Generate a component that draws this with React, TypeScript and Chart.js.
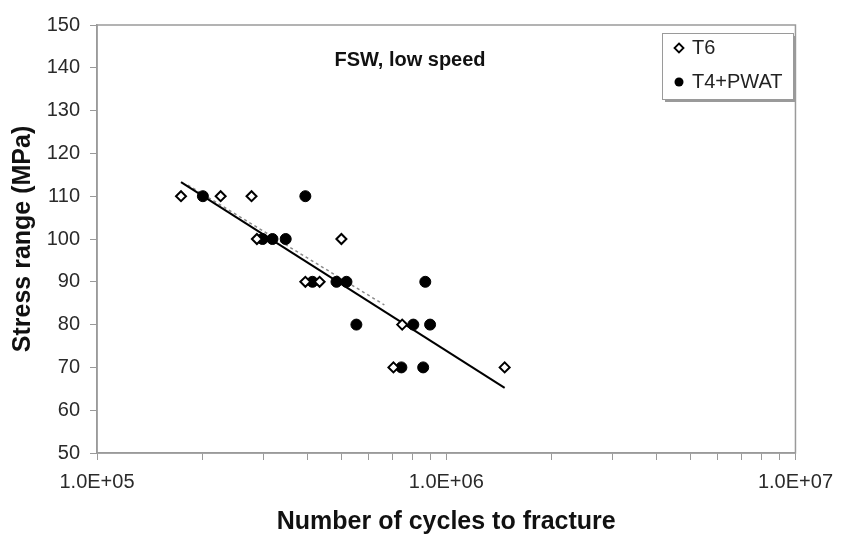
import React, { useEffect, useRef } from 'react';
import { Chart, registerables } from 'chart.js';

Chart.register(...registerables);

// ---- data ----
const T6_CYCLES = [1.74e5, 2.26e5, 2.77e5, 2.87e5, 5.01e5, 3.95e5, 4.34e5, 7.48e5, 7.06e5, 1.47e6];
const T6_STRESS = [110, 110, 110, 100, 100, 90, 90, 80, 70, 70];

const T4_CYCLES = [2.01e5, 3.95e5, 2.98e5, 3.18e5, 3.47e5, 4.14e5, 4.85e5, 5.18e5, 8.71e5, 5.53e5, 8.05e5, 8.99e5, 7.44e5, 8.59e5];
const T4_STRESS = [110, 110, 100, 100, 100, 90, 90, 90, 90, 80, 80, 80, 70, 70];

const FIT_SOLID_CYCLES = [1.74e5, 1.47e6];
const FIT_SOLID_STRESS = [113.3, 65.2];

const FIT_DASHED_CYCLES = [1.82e5, 6.65e5];
const FIT_DASHED_STRESS = [112.6, 84.6];

const X_TICKS = [
  1e5, 2e5, 3e5, 4e5, 5e5, 6e5, 7e5, 8e5, 9e5,
  1e6, 2e6, 3e6, 4e6, 5e6, 6e6, 7e6, 8e6, 9e6, 1e7,
];
const Y_MIN = 50;
const Y_MAX = 150;
const Y_STEP = 10;

const SERIES_LABELS = ['T6', 'T4+PWAT'];
const CHART_TITLE = 'FSW, low speed';
const X_TITLE = 'Number of cycles to fracture';
const Y_TITLE = 'Stress range (MPa)';

const FONT = '"Liberation Sans", Arial, sans-serif';

const toPoints = (xs: number[], ys: number[]) => xs.map((x, i) => ({ x, y: ys[i] }));

const fmtExp = (v: number) => {
  const e = Math.round(Math.log10(v));
  const sign = e >= 0 ? '+' : '-';
  const abs = Math.abs(e);
  return `1.0E${sign}${abs < 10 ? '0' + abs : abs}`;
};

const decorPlugin = {
  id: 'decor',
  afterDraw(chart: any) {
    const { ctx, chartArea } = chart;
    ctx.save();
    // frame
    ctx.strokeStyle = '#9a9a9a';
    ctx.lineWidth = 1.5;
    ctx.strokeRect(chartArea.left, chartArea.top, chartArea.right - chartArea.left, chartArea.bottom - chartArea.top);

    // title inside the plot
    ctx.fillStyle = '#111';
    ctx.font = `bold 20px ${FONT}`;
    ctx.textAlign = 'center';
    ctx.textBaseline = 'middle';
    ctx.fillText(CHART_TITLE, 410, 60);

    // legend box
    const lx = 662, ly = 33, lw = 131, lh = 66;
    ctx.fillStyle = '#9a9a9a';
    ctx.fillRect(lx + 3, ly + 3, lw, lh);
    ctx.fillStyle = '#fff';
    ctx.fillRect(lx, ly, lw, lh);
    ctx.strokeStyle = '#9a9a9a';
    ctx.lineWidth = 1;
    ctx.strokeRect(lx + 0.5, ly + 0.5, lw, lh);

    // legend symbols
    const sx = 679;
    const y1 = 48, y2 = 82;
    ctx.beginPath();
    ctx.moveTo(sx, y1 - 4.5);
    ctx.lineTo(sx + 4.5, y1);
    ctx.lineTo(sx, y1 + 4.5);
    ctx.lineTo(sx - 4.5, y1);
    ctx.closePath();
    ctx.fillStyle = '#fff';
    ctx.fill();
    ctx.strokeStyle = '#000';
    ctx.lineWidth = 1.8;
    ctx.stroke();

    ctx.beginPath();
    ctx.arc(sx, y2, 4.5, 0, Math.PI * 2);
    ctx.fillStyle = '#000';
    ctx.fill();

    ctx.fillStyle = '#222';
    ctx.font = `20px ${FONT}`;
    ctx.textAlign = 'left';
    ctx.textBaseline = 'middle';
    ctx.fillText(SERIES_LABELS[0], 692, y1);
    ctx.fillText(SERIES_LABELS[1], 692, y2);
    ctx.restore();
  },
};

export default function App() {
  const ref = useRef<HTMLCanvasElement | null>(null);

  useEffect(() => {
    if (!ref.current) return;
    const chart = new Chart(ref.current, {
      type: 'scatter',
      data: {
        datasets: [
          {
            label: SERIES_LABELS[0],
            data: toPoints(T6_CYCLES, T6_STRESS),
            pointStyle: 'rectRot',
            pointRadius: 5,
            pointBackgroundColor: '#fff',
            pointBorderColor: '#000',
            pointBorderWidth: 2,
          },
          {
            label: SERIES_LABELS[1],
            data: toPoints(T4_CYCLES, T4_STRESS),
            pointStyle: 'circle',
            pointRadius: 5.5,
            pointBackgroundColor: '#000',
            pointBorderColor: '#000',
            pointBorderWidth: 1,
          },
          {
            label: 'fit',
            data: toPoints(FIT_SOLID_CYCLES, FIT_SOLID_STRESS),
            showLine: true,
            borderColor: '#000',
            borderWidth: 2,
            pointRadius: 0,
          },
          {
            label: 'fit2',
            data: toPoints(FIT_DASHED_CYCLES, FIT_DASHED_STRESS),
            showLine: true,
            borderColor: '#8a8a8a',
            borderWidth: 1.5,
            borderDash: [3, 3],
            pointRadius: 0,
          },
        ],
      },
      options: {
        responsive: false,
        animation: false,
        layout: { padding: { left: 0, right: 46, top: 25, bottom: 0 } },
        plugins: {
          legend: { display: false },
          tooltip: { enabled: false },
          title: { display: false },
        },
        scales: {
          x: {
            type: 'logarithmic',
            min: 1e5,
            max: 1e7,
            afterBuildTicks: (scale: any) => {
              scale.ticks = X_TICKS.map((v) => ({ value: v }));
            },
            afterFit: (scale: any) => {
              scale.height = 84;
            },
            grid: {
              display: true,
              drawOnChartArea: false,
              drawTicks: true,
              tickLength: 7,
              color: '#9a9a9a',
              lineWidth: 1,
            },
            border: { display: true, color: '#9a9a9a', width: 1.5 },
            ticks: {
              autoSkip: false,
              maxRotation: 0,
              padding: 10,
              color: '#2a2a2a',
              font: { family: FONT, size: 20 },
              callback: (v: any) => {
                const l = Math.log10(Number(v));
                return Math.abs(l - Math.round(l)) < 1e-9 ? fmtExp(Number(v)) : '';
              },
            },
            title: {
              display: true,
              text: X_TITLE,
              color: '#111',
              font: { family: FONT, size: 25, weight: 'bold' },
              padding: { top: 0, bottom: 0 },
            },
          },
          y: {
            min: Y_MIN,
            max: Y_MAX,
            afterFit: (scale: any) => {
              scale.width = 97;
            },
            grid: {
              display: true,
              drawOnChartArea: false,
              drawTicks: true,
              tickLength: 7,
              color: '#9a9a9a',
              lineWidth: 1,
            },
            border: { display: true, color: '#9a9a9a', width: 1.5 },
            ticks: {
              stepSize: Y_STEP,
              padding: 10,
              color: '#2a2a2a',
              font: { family: FONT, size: 20 },
            },
            title: {
              display: true,
              text: Y_TITLE,
              color: '#111',
              font: { family: FONT, size: 25, weight: 'bold' },
              padding: { top: 8, bottom: 0 },
            },
          },
        },
      },
      plugins: [decorPlugin],
    } as any);
    return () => chart.destroy();
  }, []);

  return (
    <div style={{ position: 'fixed', left: 0, top: 0, width: 843, height: 537, background: '#fff' }}>
      <canvas ref={ref} width={843} height={537} />
    </div>
  );
}
